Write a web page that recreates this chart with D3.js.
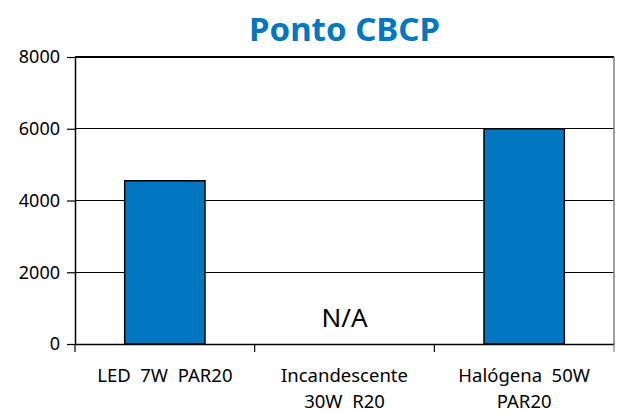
<!DOCTYPE html>
<html><head><meta charset="utf-8">
<script src="https://cdn.jsdelivr.net/npm/d3@7"></script>
<style>body{margin:0;background:#fff}svg{display:block}text{font-family:"Noto Sans",sans-serif}</style>
</head><body><svg id="c" width="618" height="413"></svg>
<script>
const categories = [["LED  7W  PAR20"], ["Incandescente", "30W  R20"], ["Halógena  50W", "PAR20"]];
const values = [4550, null, 6000];
const yTicks = [0, 2000, 4000, 6000, 8000];
const title = "Ponto CBCP";
const naLabel = "N/A";

const svg = d3.select("#c");
const m = {l: 75, r: 614, t: 57, b: 344};
const x = d3.scaleBand().domain(d3.range(categories.length)).range([m.l, m.r]).paddingInner(0.553).paddingOuter(0.2765);
const xb = d3.scaleBand().domain(d3.range(categories.length)).range([m.l, m.r]);
const y = d3.scaleLinear().domain([0, 8000]).range([m.b, m.t]);

// gridlines
svg.append("g").selectAll("line").data(yTicks.filter(d => d > 0)).join("line")
  .attr("x1", m.l).attr("x2", m.r).attr("y1", d => y(d)).attr("y2", d => y(d))
  .attr("stroke", "#000").attr("stroke-width", 1.2).attr("shape-rendering", "crispEdges");
// right border
svg.append("line").attr("x1", m.r).attr("x2", m.r).attr("y1", m.t).attr("y2", m.b)
  .attr("stroke", "#808080").attr("stroke-width", 1.5);

// bars
svg.append("g").selectAll("rect").data(values.map((v, i) => ({v, i})).filter(d => d.v != null)).join("rect")
  .attr("x", d => x(d.i)).attr("width", x.bandwidth())
  .attr("y", d => y(d.v)).attr("height", d => y(0) - y(d.v))
  .attr("fill", "#0077C0").attr("stroke", "#000").attr("stroke-width", 1.5);

// N/A
values.forEach((v, i) => {
  if (v == null) svg.append("text").attr("x", xb(i) + xb.bandwidth() / 2).attr("y", 327)
    .attr("text-anchor", "middle").attr("font-size", 26).attr("fill", "#000").text(naLabel);
});

// y axis
const ya = svg.append("g").attr("transform", `translate(${m.l},0)`)
  .call(d3.axisLeft(y).tickValues(yTicks).tickFormat(d3.format("d")).tickSize(8).tickPadding(7).tickSizeOuter(0));
ya.select(".domain").attr("stroke", "#000").attr("stroke-width", 1.5);
ya.selectAll(".tick line").attr("stroke", "#000").attr("stroke-width", 1.2);
ya.selectAll("text").attr("font-size", 18).attr("fill", "#000").attr("font-family", "Noto Sans");

// x axis
const xa = svg.append("g").attr("transform", `translate(0,${m.b})`)
  .call(d3.axisBottom(xb).tickSize(0).tickFormat(""));
xa.select(".domain").attr("stroke", "#000").attr("stroke-width", 1.5);
xa.selectAll(".tick").remove();
const tickPos = d3.range(categories.length + 1).map(i => i < categories.length ? xb(i) : m.r);
xa.selectAll("line.t").data(tickPos).join("line").attr("class", "t")
  .attr("x1", d => d).attr("x2", d => d).attr("y1", 0).attr("y2", 8)
  .attr("stroke", d => d === m.r ? "#808080" : "#000").attr("stroke-width", 1.2);

// x labels
categories.forEach((lines, i) => {
  const t = svg.append("text").attr("text-anchor", "middle").attr("font-size", 18.5).attr("fill", "#000")
    .style("white-space", "pre");
  lines.forEach((s, j) => t.append("tspan").attr("x", xb(i) + xb.bandwidth() / 2).attr("y", 382 + j * 26).text(s));
});

// title
svg.append("text").attr("x", (m.l + m.r) / 2).attr("y", 41).attr("text-anchor", "middle")
  .attr("font-size", 33).attr("font-weight", "bold").attr("fill", "#0077C0").text(title);
</script></body></html>
